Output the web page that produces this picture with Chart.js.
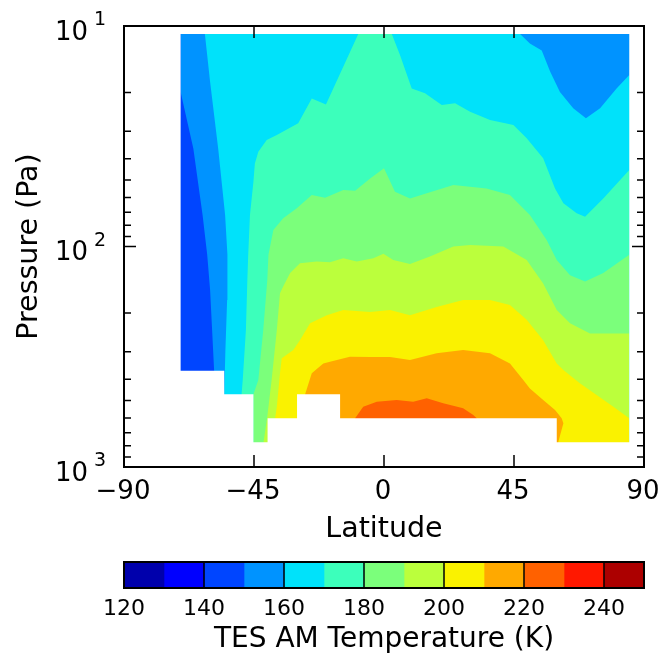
<!DOCTYPE html>
<html>
<head>
<meta charset="utf-8">
<title>TES AM Temperature</title>
<script src="https://cdn.jsdelivr.net/npm/chart.js@4.4.1/dist/chart.umd.min.js"></script>
<style>
  body { margin: 0; background: #fff; }
  canvas { display: block; }
</style>
</head>
<body>
<canvas id="contour" width="664" height="560"></canvas>
<canvas id="colorbar" width="664" height="98"></canvas>
<script>
// --- Data ---

// temperature levels (K) and the jet colour of each band
const levels = [120, 130, 140, 150, 160, 170, 180, 190, 200, 210, 220, 230, 240, 250];
const bandColors = ['#0000ac', '#0000ff', '#0045ff', '#0093ff', '#00e2fa', '#3cffbb',
                    '#7bff7b', '#bbff3c', '#faf200', '#ffa900', '#ff6100', '#ff1800', '#ac0000'];

// ticks
const latTicks = [-90, -45, 0, 45, 90];
const latTickLabels = ['\u221290', '\u221245', '0', '45', '90'];
const pTicks = [10, 100, 1000];
const pTickExponents = ['1', '2', '3'];
const pMinorTicks = [20, 30, 40, 50, 60, 70, 80, 90, 200, 300, 400, 500, 600, 700, 800, 900];
const cbTicks = [120, 140, 160, 180, 200, 220, 240];

// where the data exist (latitude in degrees, pressure in Pa)
const dataLatWest = -70.4;
const dataLatEast = 84.9;
const dataPTop = 10.87;
// ground mask: lowest valid pressure along latitude (steps)
const groundLat = [-70.4, -55.3, -55.3, -45.2, -45.2, -40.3, -40.3, -30.1, -30.1, -15.2, -15.2, 59.8, 59.8, 84.9];
const groundP   = [366, 366, 468, 468, 773, 773, 601, 601, 468, 468, 601, 601, 773, 773];

// contour lines, each traced from the ground / edge across the field
const c150Lat = [-58.8, -59.5, -60.2, -61.2, -62.8, -66.0, -70.4];
const c150P   = [366, 239, 157, 109, 72, 35.9, 19.9];

const c160WestLat = [-55.3, -54.9, -54.3, -54.2, -55.0, -57.4, -60.2, -62.0];
const c160WestP   = [468, 295, 175, 109, 72, 35.9, 17.9, 10.87];
const c160NorthLat = [47.1, 50.5, 54.6, 57.5, 60.9, 65.5, 69.9, 74.8, 80.5, 84.9];
const c160NorthP   = [10.87, 12.0, 12.9, 16.1, 19.9, 23.6, 26.2, 23.6, 19.2, 16.7];

const c170Lat = [-49.3, -48.9, -47.8, -47.3, -47.0, -46.4, -45.2, -44.7, -43.5, -40.6, -37.1, -29.7, -25.0, -20.1, -8.9,
                 2.7, 5.5, 9.6, 14.2, 20.0, 24.6, 29.8, 36.7, 44.8, 49.4, 55.1, 59.2, 62.1, 66.7, 69.6, 75.9, 84.9];
const c170P   = [468, 403, 239, 142, 109, 72, 50.8, 42.0, 37.2, 32.9, 31.2, 27.6, 21.3, 22.7, 10.87,
                 10.87, 13.5, 19.2, 20.2, 22.8, 22.4, 24.5, 26.7, 28.1, 32.3, 39.8, 54.5, 63.7, 70.7, 73.3, 60.5, 45.0];

const c180Lat = [-45.2, -43.5, -41.8, -40.4, -40.0, -38.3, -34.9, -30.2, -25.0, -20.4, -14.1, -10.0, -4.8, 0.0,
                 3.8, 9.0, 14.8, 24.0, 35.5, 43.6, 50.5, 56.3, 59.8, 64.4, 69.6, 75.9, 84.9];
const c180P   = [468, 403, 239, 142, 109, 84.2, 74.5, 67.1, 58.4, 60.1, 55.4, 55.8, 49.1, 44.2,
                 56.4, 60.5, 57.4, 52.6, 54.5, 58.4, 72, 93.4, 115, 135, 144, 132, 109];

const c190Lat = [-41.7, -40.4, -38.9, -37.1, -36.0, -34.9, -32.5, -29.1, -23.3, -18.7, -14.1, -9.4, -3.7, -0.2,
                 3.2, 9.0, 15.9, 24.0, 29.8, 41.3, 49.4, 55.1, 59.8, 64.4, 71.3, 84.9];
const c190P   = [773, 592, 403, 239, 163, 152, 132, 119, 117, 118, 113, 117, 113, 108,
                 115, 120, 111, 100, 98.4, 100, 115, 147, 194, 223, 248, 248];

const c200Lat = [-37.7, -37.1, -36.0, -35.4, -31.4, -29.1, -25.6, -19.8, -14.1, -4.8, 2.1, 9.0,
                 18.2, 27.4, 36.7, 43.6, 49.4, 55.1, 59.8, 62.1, 67.8, 73.6, 79.4, 84.9];
const c200P   = [601, 533, 376, 321, 295, 266, 223, 205, 194, 198, 194, 205,
                 188, 175, 175, 184, 215, 266, 339, 363, 417, 472, 533, 601];

const c210Lat = [-27.3, -25.0, -21.0, -18.7, -11.8, -4.8, 2.1, 9.0, 18.2, 27.4, 36.7, 43.6,
                 48.2, 50.5, 55.1, 59.2, 61.5, 62.1, 60.3];
const c210P   = [468, 376, 339, 333, 316, 317, 317, 327, 305, 295, 305, 339,
                 403, 440, 497, 552, 601, 634, 773];

const c220Lat = [-10.0, -7.2, -2.5, 4.4, 10.1, 14.8, 20.5, 27.4, 30.9, 32.1];
const c220P   = [601, 533, 506, 497, 506, 488, 514, 542, 581, 601];

// points far outside the plot, used to close the filled shapes
const FAR_W = -100, FAR_E = 100, FAR_TOP = 1, FAR_BOTTOM = 1e5;

// --- Shapes ---
const pts = (lats, ps) => lats.map((lat, i) => ({ x: lat, y: ps[i] }));

// region warmer than a contour that starts and ends on the ground or the east edge
function belowLine(lats, ps) {
    return pts(lats, ps).concat([
        { x: lats[lats.length - 1], y: FAR_BOTTOM },
        { x: lats[0], y: FAR_BOTTOM }
    ]);
}

const colorOf = level => bandColors[levels.indexOf(level)];
const blank = '#ffffff';

// painted in this order, each band on top of the colder ones
const layers = [
    { color: colorOf(140), points: [
        { x: FAR_W, y: FAR_TOP }, { x: FAR_E, y: FAR_TOP }, { x: FAR_E, y: FAR_BOTTOM }, { x: FAR_W, y: FAR_BOTTOM }] },
    { color: colorOf(150), points: pts(c150Lat, c150P).concat([
        { x: c150Lat[c150Lat.length - 1], y: FAR_TOP }, { x: FAR_E, y: FAR_TOP },
        { x: FAR_E, y: FAR_BOTTOM }, { x: c150Lat[0], y: FAR_BOTTOM }]) },
    { color: colorOf(160), points: pts(c160WestLat, c160WestP)
        .concat([{ x: c160WestLat[c160WestLat.length - 1], y: FAR_TOP }, { x: c160NorthLat[0], y: FAR_TOP }])
        .concat(pts(c160NorthLat, c160NorthP))
        .concat([{ x: FAR_E, y: FAR_BOTTOM }, { x: c160WestLat[0], y: FAR_BOTTOM }]) },
    { color: colorOf(170), points: belowLine(c170Lat, c170P) },
    { color: colorOf(180), points: belowLine(c180Lat, c180P) },
    { color: colorOf(190), points: belowLine(c190Lat, c190P) },
    { color: colorOf(200), points: belowLine(c200Lat, c200P) },
    { color: colorOf(210), points: belowLine(c210Lat, c210P) },
    { color: colorOf(220), points: belowLine(c220Lat, c220P) },
    // blank where there is no data
    { color: blank, points: [
        { x: FAR_W, y: FAR_TOP }, { x: FAR_E, y: FAR_TOP }, { x: FAR_E, y: dataPTop }, { x: FAR_W, y: dataPTop }] },
    { color: blank, points: [
        { x: FAR_W, y: FAR_TOP }, { x: dataLatWest, y: FAR_TOP }, { x: dataLatWest, y: FAR_BOTTOM }, { x: FAR_W, y: FAR_BOTTOM }] },
    { color: blank, points: [
        { x: dataLatEast, y: FAR_TOP }, { x: FAR_E, y: FAR_TOP }, { x: FAR_E, y: FAR_BOTTOM }, { x: dataLatEast, y: FAR_BOTTOM }] },
    { color: blank, points: [{ x: FAR_W, y: groundP[0] }]
        .concat(pts(groundLat, groundP))
        .concat([{ x: FAR_E, y: groundP[groundP.length - 1] }, { x: FAR_E, y: FAR_BOTTOM }, { x: FAR_W, y: FAR_BOTTOM }]) }
];

const FONT = '"DejaVu Sans", sans-serif';
Chart.defaults.font.family = FONT;

// frame, inward ticks and axis texts, in the old matplotlib look
const plotFrame = {
    id: 'plotFrame',
    afterDraw(chart) {
        const { ctx, chartArea: a, scales: { x, y } } = chart;
        ctx.save();
        ctx.strokeStyle = '#000';
        ctx.lineWidth = 1.5;
        ctx.beginPath();
        latTicks.forEach(v => {
            const px = x.getPixelForValue(v);
            ctx.moveTo(px, a.bottom); ctx.lineTo(px, a.bottom - 12);
            ctx.moveTo(px, a.top); ctx.lineTo(px, a.top + 12);
        });
        pTicks.forEach(v => {
            const py = y.getPixelForValue(v);
            ctx.moveTo(a.left, py); ctx.lineTo(a.left + 12, py);
            ctx.moveTo(a.right, py); ctx.lineTo(a.right - 12, py);
        });
        pMinorTicks.forEach(v => {
            const py = y.getPixelForValue(v);
            ctx.moveTo(a.left, py); ctx.lineTo(a.left + 7, py);
            ctx.moveTo(a.right, py); ctx.lineTo(a.right - 7, py);
        });
        ctx.stroke();
        ctx.lineWidth = 2;
        ctx.strokeRect(a.left, a.top, a.right - a.left, a.bottom - a.top);

        ctx.fillStyle = '#000';
        ctx.textBaseline = 'alphabetic';
        ctx.textAlign = 'center';
        ctx.font = '26px ' + FONT;
        latTicks.forEach((v, i) => ctx.fillText(latTickLabels[i], x.getPixelForValue(v) - 1, a.bottom + 32));
        ctx.font = '28.5px ' + FONT;
        ctx.fillText('Latitude', (a.left + a.right) / 2, a.bottom + 70);

        pTicks.forEach((v, i) => {
            const py = y.getPixelForValue(v);
            ctx.font = '26px ' + FONT;
            ctx.textAlign = 'right';
            ctx.fillText('10', a.left - 36, py + 13.5);
            ctx.font = '19px ' + FONT;
            ctx.textAlign = 'left';
            ctx.fillText(pTickExponents[i], a.left - 30, py - 1);
        });

        ctx.translate(a.left - 87, (a.top + a.bottom) / 2);
        ctx.rotate(-Math.PI / 2);
        ctx.textAlign = 'center';
        ctx.font = '28.5px ' + FONT;
        ctx.fillText('Pressure (Pa)', 0, 0);
        ctx.restore();
    }
};

new Chart(document.getElementById('contour'), {
    type: 'scatter',
    data: {
        datasets: layers.map((l, i) => ({
            data: l.points,
            showLine: true,
            fill: 'shape',
            backgroundColor: l.color,
            borderColor: 'transparent',
            borderWidth: 0,
            pointRadius: 0,
            tension: 0,
            order: layers.length - i
        }))
    },
    options: {
        responsive: false,
        animation: false,
        events: [],
        layout: { padding: { left: 124, right: 20, top: 26, bottom: 93 } },
        plugins: { legend: { display: false }, tooltip: { enabled: false } },
        scales: {
            x: { type: 'linear', min: -90, max: 90, display: false },
            y: { type: 'logarithmic', min: 10, max: 1000, reverse: true, display: false }
        }
    },
    plugins: [plotFrame]
});

// --- Colour bar ---
const colorbarFrame = {
    id: 'colorbarFrame',
    afterDraw(chart) {
        const { ctx, chartArea: a, scales: { x } } = chart;
        ctx.save();
        ctx.strokeStyle = '#000';
        ctx.lineWidth = 1.5;
        ctx.beginPath();
        cbTicks.forEach(v => {
            const px = x.getPixelForValue(v);
            ctx.moveTo(px, a.top); ctx.lineTo(px, a.bottom);
        });
        ctx.stroke();
        ctx.lineWidth = 2;
        ctx.strokeRect(a.left, a.top, a.right - a.left, a.bottom - a.top);

        ctx.fillStyle = '#000';
        ctx.textAlign = 'center';
        ctx.textBaseline = 'alphabetic';
        ctx.font = '22px ' + FONT;
        cbTicks.forEach(v => ctx.fillText(String(v), x.getPixelForValue(v), a.bottom + 27));
        ctx.font = '28px ' + FONT;
        ctx.fillText('TES AM Temperature (K)', (a.left + a.right) / 2, a.bottom + 59);
        ctx.restore();
    }
};

new Chart(document.getElementById('colorbar'), {
    type: 'bar',
    data: {
        labels: [''],
        datasets: bandColors.map((c, i) => ({
            data: [[levels[i], levels[i + 1]]],
            backgroundColor: c,
            borderWidth: 0,
            grouped: false,
            barPercentage: 1,
            categoryPercentage: 1
        }))
    },
    options: {
        indexAxis: 'y',
        responsive: false,
        animation: false,
        events: [],
        layout: { padding: { left: 124, right: 20, top: 2, bottom: 70 } },
        plugins: { legend: { display: false }, tooltip: { enabled: false } },
        scales: {
            x: { type: 'linear', min: 120, max: 250, display: false },
            y: { display: false }
        }
    },
    plugins: [colorbarFrame]
});
</script>
</body>
</html>
